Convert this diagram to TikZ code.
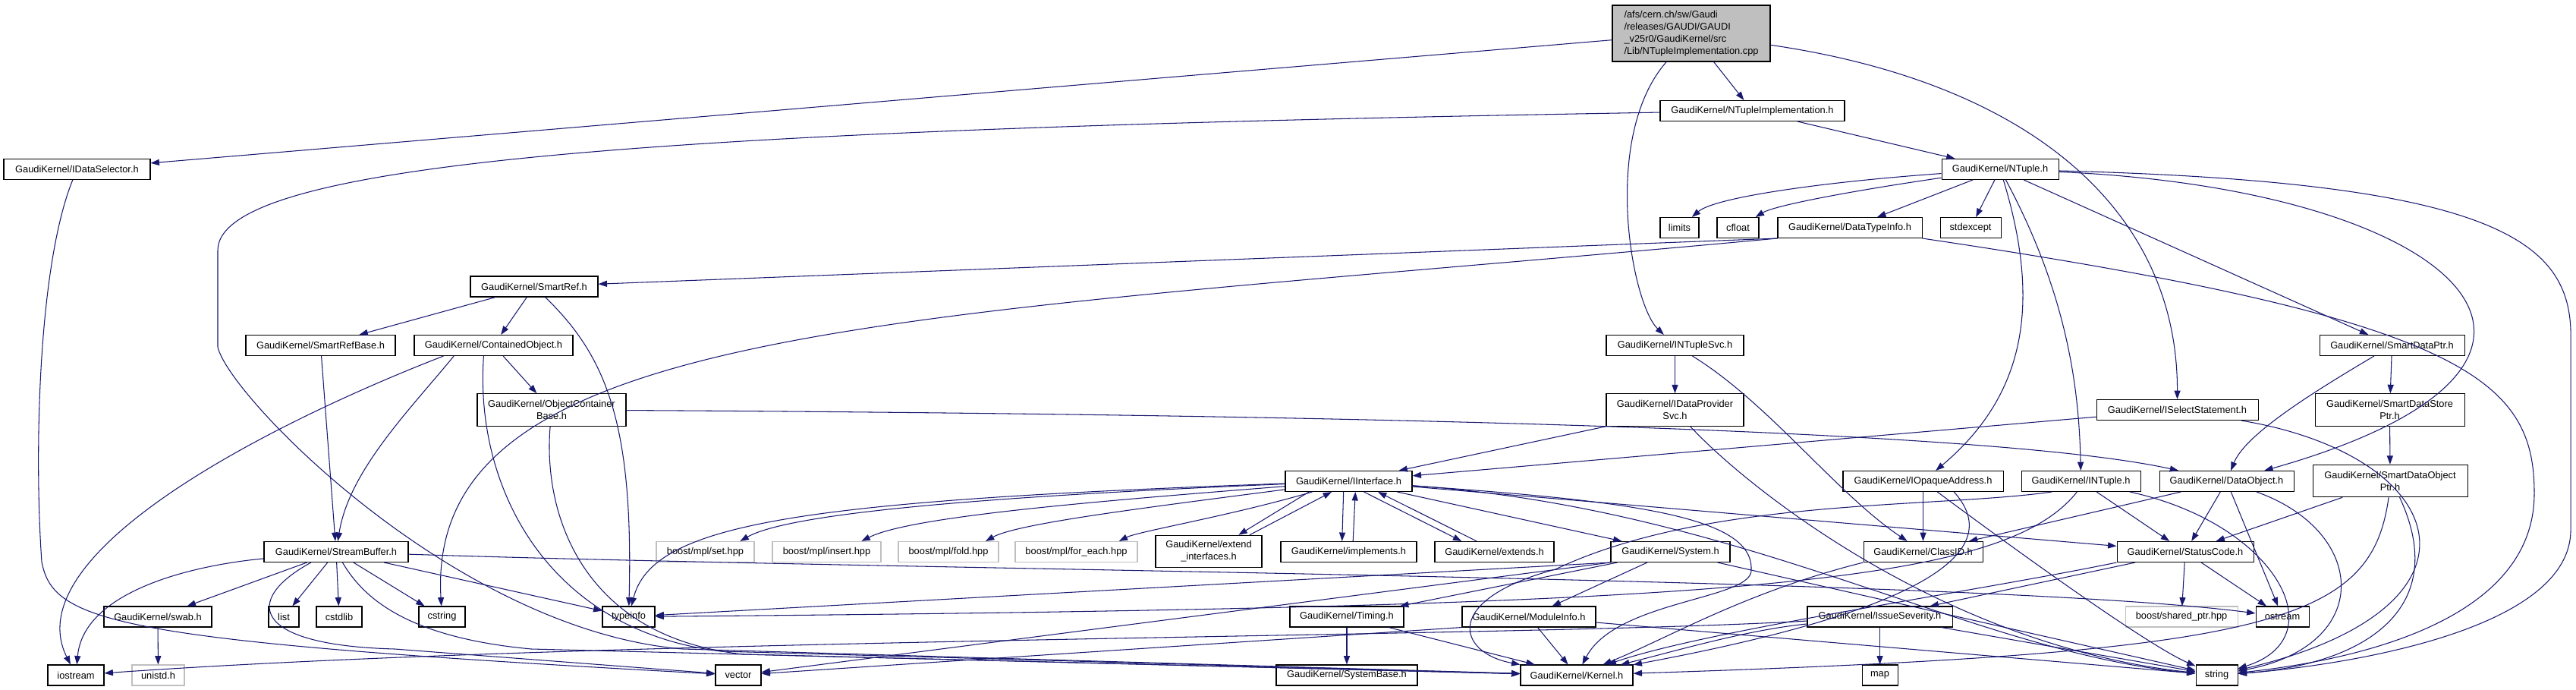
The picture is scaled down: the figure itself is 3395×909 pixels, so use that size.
\documentclass[tikz,border=0pt]{standalone}
\usepackage{fontspec}
\setmainfont{Liberation Sans}
\usetikzlibrary{arrows.meta}
\definecolor{edgeblue}{HTML}{191970}
\definecolor{filegray}{HTML}{BFBFBF}

\begin{document}
\begin{tikzpicture}[x=0.02cm,y=-0.02cm]
\tikzset{file/.style = {shape=rectangle,draw,line width=0.6pt,inner sep=0pt,minimum height=0.54cm,align=center,font=\fontsize{7.3}{9.1}\selectfont}}
\tikzset{sysfile/.style = {file,draw=filegray}}
\tikzset{wd/.style = {minimum width=#1*0.02cm}}
\tikzset{twoline/.style = {minimum height=0.85cm}}
\tikzset{edge/.style = {->,> = {Triangle[length=6.5pt,width=4.6pt]},color=edgeblue,line width=0.6pt}}
\useasboundingbox (0,0) rectangle (3395,909);

\node[file,wd=208,minimum height=1.48cm,fill=filegray,align=left] (root) at (2229,44) {/afs/cern.ch/sw/Gaudi\\/releases/GAUDI/GAUDI\\\_v25r0/GaudiKernel/src\\/Lib/NTupleImplementation.cpp};
\node[file,wd=193] (idsel) at (101.5,223) {GaudiKernel/IDataSelector.h};
\node[file,wd=243] (ntimpl) at (2309.5,146) {GaudiKernel/NTupleImplementation.h};
\node[file,wd=154] (ntuple) at (2636,223) {GaudiKernel/NTuple.h};
\node[file,wd=51] (limits) at (2213.5,300) {limits};
\node[file,wd=55] (cfloat) at (2290.5,300) {cfloat};
\node[file,wd=190] (dtinfo) at (2438,300) {GaudiKernel/DataTypeInfo.h};
\node[file,wd=80] (stdexcept) at (2597,300) {stdexcept};
\node[file,wd=168] (smartref) at (704,377.5) {GaudiKernel/SmartRef.h};
\node[file,wd=197] (srbase) at (422.5,455) {GaudiKernel/SmartRefBase.h};
\node[file,wd=209] (contobj) at (650.5,455) {GaudiKernel/ContainedObject.h};
\node[file,twoline,wd=196] (ocbase) at (727,540) {GaudiKernel/ObjectContainer\\Base.h};
\node[file,wd=181] (ntsvc) at (2207.5,455) {GaudiKernel/INTupleSvc.h};
\node[file,twoline,wd=181] (idpsvc) at (2207.5,540) {GaudiKernel/IDataProvider\\Svc.h};
\node[file,wd=213] (isel) at (2869.5,540) {GaudiKernel/ISelectStatement.h};
\node[file,wd=191] (sdptr) at (3152.5,455) {GaudiKernel/SmartDataPtr.h};
\node[file,twoline,wd=197] (sdsptr) at (3149.5,540) {GaudiKernel/SmartDataStore\\Ptr.h};
\node[file,wd=167] (iinterface) at (1777.5,634) {GaudiKernel/IInterface.h};
\node[file,wd=211] (iopaque) at (2534.5,634) {GaudiKernel/IOpaqueAddress.h};
\node[file,wd=157] (intuple) at (2742.5,634) {GaudiKernel/INTuple.h};
\node[file,wd=177] (dataobj) at (2934.5,634) {GaudiKernel/DataObject.h};
\node[file,twoline,wd=204] (sdoptr) at (3150,633.5) {GaudiKernel/SmartDataObject\\Ptr.h};
\node[file,wd=190] (streambuf) at (443,727) {GaudiKernel/StreamBuffer.h};
\node[sysfile,wd=129] (setb) at (929.5,727) {boost/mpl/set.hpp};
\node[sysfile,wd=143] (insertb) at (1089.5,727) {boost/mpl/insert.hpp};
\node[sysfile,wd=132] (foldb) at (1250,727) {boost/mpl/fold.hpp};
\node[sysfile,wd=161] (foreachb) at (1418.5,727) {boost/mpl/for\_each.hpp};
\node[file,twoline,wd=140] (extif) at (1593,726.5) {GaudiKernel/extend\\\_interfaces.h};
\node[file,wd=179] (implements) at (1777.5,727) {GaudiKernel/implements.h};
\node[file,wd=157] (extends) at (1969.5,727) {GaudiKernel/extends.h};
\node[file,wd=157] (system) at (2201.5,727) {GaudiKernel/System.h};
\node[file,wd=157] (classid) at (2534.5,727) {GaudiKernel/ClassID.h};
\node[file,wd=180] (statuscode) at (2880,727) {GaudiKernel/StatusCode.h};
\node[file,wd=142] (swab) at (208,812.5) {GaudiKernel/swab.h};
\node[file,wd=40] (list) at (374,812.5) {list};
\node[file,wd=60] (cstdlib) at (447,812.5) {cstdlib};
\node[file,wd=61] (cstring) at (582.5,812.5) {cstring};
\node[file,wd=69] (typeinfo) at (828.5,812.5) {typeinfo};
\node[file,wd=150] (timing) at (1775,812.5) {GaudiKernel/Timing.h};
\node[file,wd=176] (moduleinfo) at (2015,812.5) {GaudiKernel/ModuleInfo.h};
\node[file,wd=191] (issuesev) at (2477.5,812.5) {GaudiKernel/IssueSeverity.h};
\node[sysfile,wd=148] (sharedptr) at (2875,812.5) {boost/shared\_ptr.hpp};
\node[file,wd=70] (ostream) at (3008,812.5) {ostream};
\node[file,wd=74] (iostream) at (100,889.5) {iostream};
\node[sysfile,wd=69] (unistd) at (208.5,889.5) {unistd.h};
\node[file,wd=60] (vector) at (973,889.5) {vector};
\node[file,wd=186] (systembase) at (1775,889.5) {GaudiKernel/SystemBase.h};
\node[file,wd=148] (kernel) at (2078,889.5) {GaudiKernel/Kernel.h};
\node[file,wd=47] (map) at (2477.5,889.5) {map};
\node[file,wd=55] (string) at (2921.5,889.5) {string};

\draw[edge] (root) to (idsel);
\draw[edge] (root) to (ntimpl);
\draw[edge] (root) .. controls (2110,180) and (2150,400) .. (ntsvc);
\draw[edge] (root) .. controls (2680,110) and (2870,280) .. (isel);
\draw[edge] (idsel) .. controls (50,350) and (45,600) .. (55,740) .. controls (70,820) and (150,845) .. (vector);
\draw[edge] (ntimpl) to (ntuple);
\draw[edge] (ntimpl) .. controls (900,170) and (287,210) .. (287,330) -- (287,457) .. controls (300,520) and (600,830) .. (900,855) -- (kernel);
\draw[edge] (ntuple) .. controls (2400,240) and (2260,260) .. (limits);
\draw[edge] (ntuple) .. controls (2450,250) and (2340,270) .. (cfloat);
\draw[edge] (ntuple) to (dtinfo);
\draw[edge] (ntuple) to (stdexcept);
\draw[edge] (ntuple) .. controls (2690,400) and (2670,520) .. (iopaque);
\draw[edge] (ntuple) .. controls (2720,380) and (2740,500) .. (intuple);
\draw[edge] (ntuple) to (sdptr);
\draw[edge] (ntuple) .. controls (3250,250) and (3480,480) .. (dataobj);
\draw[edge] (ntuple) .. controls (3300,240) and (3392,320) .. (3388,450) -- (3388,700) .. controls (3385,840) and (3050,880) .. (string);
\draw[edge] (dtinfo.south west) to (smartref);
\draw[edge] (dtinfo.south west) .. controls (1200,420) and (560,420) .. (cstring);
\draw[edge] (dtinfo.south east) .. controls (3250,420) and (3340,500) .. (3340,650) .. controls (3340,820) and (3100,870) .. (string);
\draw[edge] (smartref) to (srbase);
\draw[edge] (smartref) to (contobj);
\draw[edge] (smartref) .. controls (800,470) and (835,560) .. (typeinfo);
\draw[edge] (srbase) to (streambuf);
\draw[edge] (contobj) to (ocbase);
\draw[edge] (contobj.192) .. controls (350,560) and (20,730) .. (iostream);
\draw[edge] (contobj.195) .. controls (540,540) and (460,620) .. (streambuf);
\draw[edge] (contobj.227) .. controls (625,640) and (720,830) .. (950,858) -- (kernel);
\draw[edge] (ocbase) .. controls (1600,545) and (2600,560) .. (dataobj);
\draw[edge] (ocbase) .. controls (715,680) and (770,840) .. (980,862) -- (kernel);
\draw[edge] (streambuf) .. controls (250,745) and (110,780) .. (iostream);
\draw[edge] (streambuf) to (swab);
\draw[edge] (streambuf) to (list);
\draw[edge] (streambuf) to (cstdlib);
\draw[edge] (streambuf) to (cstring);
\draw[edge] (streambuf) to (typeinfo);
\draw[edge] (streambuf.203) .. controls (320,790) and (330,850) .. (520,855) -- (vector);
\draw[edge] (streambuf.301) .. controls (480,790) and (540,840) .. (700,855) -- (kernel);
\draw[edge] (streambuf) .. controls (1200,752) and (2600,760) .. (ostream);
\draw[edge] (swab) to (unistd);
\draw[edge] (ntsvc) to (idpsvc);
\draw[edge] (ntsvc) .. controls (2330,530) and (2420,650) .. (classid);
\draw[edge] (idpsvc.south west) to (iinterface.12);
\draw[edge] (idpsvc) .. controls (2300,640) and (2560,850) .. (string);
\draw[edge] (isel) to (iinterface);
\draw[edge] (isel) .. controls (3230,600) and (3300,800) .. (string);
\draw[edge] (sdptr) to (sdsptr);
\draw[edge] (sdptr) .. controls (3060,510) and (2960,570) .. (dataobj);
\draw[edge] (sdsptr) to (sdoptr);
\draw[edge] (sdoptr) to (statuscode);
\draw[edge] (sdoptr.265) .. controls (3125,820) and (3000,860) .. (kernel);
\draw[edge] (sdoptr.300) .. controls (3230,800) and (3120,875) .. (string);
\draw[edge] (iinterface) .. controls (1400,650) and (1050,670) .. (setb.17);
\draw[edge] (iinterface) .. controls (1450,660) and (1200,680) .. (insertb.17);
\draw[edge] (iinterface) .. controls (1500,670) and (1340,690) .. (foldb.16);
\draw[edge] (iinterface) .. controls (1620,680) and (1500,700) .. (foreachb.14);
\draw[edge] (iinterface) .. controls (1050,660) and (860,690) .. (typeinfo);
\draw[edge] (iinterface.195) to (extif.29);
\draw[edge] (extif.22) to (iinterface.212);
\draw[edge] (iinterface.244) to (implements.122);
\draw[edge] (implements.68) to (iinterface.302);
\draw[edge] (iinterface.325) to (extends.162);
\draw[edge] (extends.149) to (iinterface.340);
\draw[edge] (iinterface) to (system);
\draw[edge] (iinterface) to (statuscode);
\draw[edge] (iinterface) .. controls (2300,670) and (2600,860) .. (string);
\draw[edge] (iinterface) .. controls (2150,660) and (2310,680) .. (2308,750) .. controls (2312,790) and (2130,790) .. (kernel);
\draw[edge] (system) to (timing);
\draw[edge] (system) to (moduleinfo);
\draw[edge] (system.south west) to (typeinfo);
\draw[edge] (system.south west) to (vector);
\draw[edge] (system) to (string);
\draw[edge] (timing) to (systembase);
\draw[edge] (timing) to (kernel);
\draw[edge] (moduleinfo) to (kernel);
\draw[edge] (moduleinfo) to (string);
\draw[edge] (moduleinfo.south west) to (vector);
\draw[edge] (iopaque) to (classid);
\draw[edge] (iopaque) .. controls (2650,720) and (2830,850) .. (string);
\draw[edge] (iopaque.341) .. controls (2640,720) and (2560,800) .. (kernel);
\draw[edge] (intuple) to (statuscode);
\draw[edge] (intuple) .. controls (3000,690) and (3080,840) .. (string);
\draw[edge] (intuple.200) .. controls (2550,670) and (2250,655) .. (2050,750) .. controls (1900,790) and (1920,860) .. (kernel.north west);
\draw[edge] (intuple.250) .. controls (2640,770) and (2300,800) .. (typeinfo);
\draw[edge] (dataobj) to (classid);
\draw[edge] (dataobj) to (statuscode);
\draw[edge] (dataobj) to (ostream);
\draw[edge] (dataobj) .. controls (3120,700) and (3130,850) .. (string);
\draw[edge] (classid.south west) .. controls (2300,780) and (2200,840) .. (kernel);
\draw[edge] (statuscode) to (issuesev);
\draw[edge] (statuscode.south west) .. controls (2600,780) and (2250,830) .. (kernel);
\draw[edge] (statuscode) to (sharedptr);
\draw[edge] (statuscode) to (ostream);
\draw[edge] (issuesev) to (map);
\draw[edge] (issuesev) to (string);
\draw[edge] (issuesev) .. controls (2300,830) and (2200,860) .. (kernel);
\draw[edge] (issuesev) .. controls (2000,840) and (800,840) .. (iostream);
\end{tikzpicture}
\end{document}
